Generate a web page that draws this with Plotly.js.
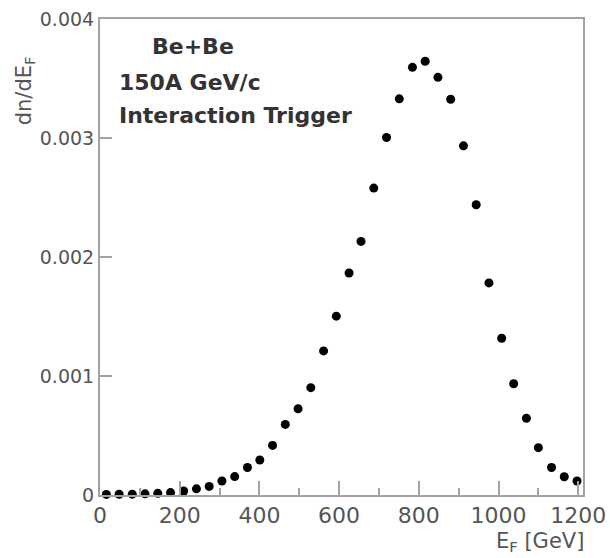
<!DOCTYPE html>
<html>
<head>
<meta charset="utf-8">
<script src="https://cdn.plot.ly/plotly-3.0.1.min.js"></script>
<style>body{margin:0;background:#fff}#chart{width:610px;height:558px}</style>
</head>
<body>
<div id="chart"></div>
<script>
// Energy E_F [GeV]
const energy = [16, 48, 81, 113, 145, 177, 210, 242, 274, 306, 338, 370, 401, 433, 465, 497, 529, 561, 593,
  625, 655, 687, 719, 751, 784, 816, 848, 880, 912, 944, 976, 1008, 1038, 1070, 1100, 1133, 1165, 1197];
// dn/dE_F
const dndE = [0.000005, 0.000006, 0.000007, 0.000010, 0.000014, 0.000020, 0.000034, 0.000052, 0.000072, 0.000118,
  0.000155, 0.000231, 0.000294, 0.000417, 0.000593, 0.000725, 0.000902, 0.001211, 0.001503,
  0.001866, 0.002131, 0.002579, 0.003004, 0.003329, 0.003594, 0.003645, 0.003510, 0.003326, 0.002934,
  0.002439, 0.001782, 0.001317, 0.000935, 0.000645, 0.000398, 0.000231, 0.000153, 0.000118];
const xTickVals = [0, 200, 400, 600, 800, 1000, 1200];
const yTickVals = [0, 0.001, 0.002, 0.003, 0.004];
const yTickText = ['0', '0.001', '0.002', '0.003', '0.004'];
const labelLines = ['Be+Be', '150A GeV/c', 'Interaction Trigger'];

const FONT = 'DejaVu Sans, Verdana, sans-serif';
const axisCommon = {
  showline: true, mirror: true, linecolor: '#a3a3a3', linewidth: 2,
  showgrid: false, zeroline: false,
  ticks: 'inside', tickcolor: '#a3a3a3', tickwidth: 2
};

const trace = {
  x: energy, y: dndE, type: 'scatter', mode: 'markers',
  marker: {color: '#000', size: 9},
  cliponaxis: false, hoverinfo: 'skip'
};

const layout = {
  width: 610, height: 558,
  margin: {l: 100, r: 27, t: 19, b: 63},
  paper_bgcolor: '#fff', plot_bgcolor: '#fff',
  showlegend: false,
  xaxis: Object.assign({}, axisCommon, {
    range: [0, 1212], tickvals: xTickVals, ticklen: 14,
    tickfont: {family: FONT, size: 22, color: '#555'},
    minor: {dtick: 100, ticks: 'inside', ticklen: 7, tickcolor: '#a3a3a3', tickwidth: 2}
  }),
  yaxis: Object.assign({}, axisCommon, {
    range: [0, 0.004], tickvals: yTickVals, ticktext: yTickText, ticklen: 12,
    tickfont: {family: FONT, size: 19, color: '#555'}
  }),
  annotations: [
    {text: 'dn/dE<sub>F</sub>', xref: 'paper', yref: 'paper', x: -0.155, y: 0.925, xanchor: 'center', yanchor: 'top',
     textangle: -90, showarrow: false, font: {family: FONT, size: 21, color: '#555'}},
    {text: 'E<sub>F</sub> [GeV]', xref: 'paper', yref: 'paper', x: 1.006, y: -0.098, xanchor: 'right', yanchor: 'middle',
     showarrow: false, font: {family: FONT, size: 21, color: '#555'}},
    {text: '<b>' + labelLines[0] + '</b>', xref: 'paper', yref: 'paper', x: 0.193, y: 0.943, xanchor: 'center', yanchor: 'middle',
     showarrow: false, font: {family: FONT, size: 22, color: '#333'}},
    {text: '<b>' + labelLines[1] + '</b>', xref: 'paper', yref: 'paper', x: 0.035, y: 0.866, xanchor: 'left', yanchor: 'middle',
     showarrow: false, font: {family: FONT, size: 22, color: '#333'}},
    {text: '<b>' + labelLines[2] + '</b>', xref: 'paper', yref: 'paper', x: 0.035, y: 0.798, xanchor: 'left', yanchor: 'middle',
     showarrow: false, font: {family: FONT, size: 22, color: '#333'}}
  ]
};

Plotly.newPlot('chart', [trace], layout, {staticPlot: true, displayModeBar: false});
</script>
</body>
</html>
